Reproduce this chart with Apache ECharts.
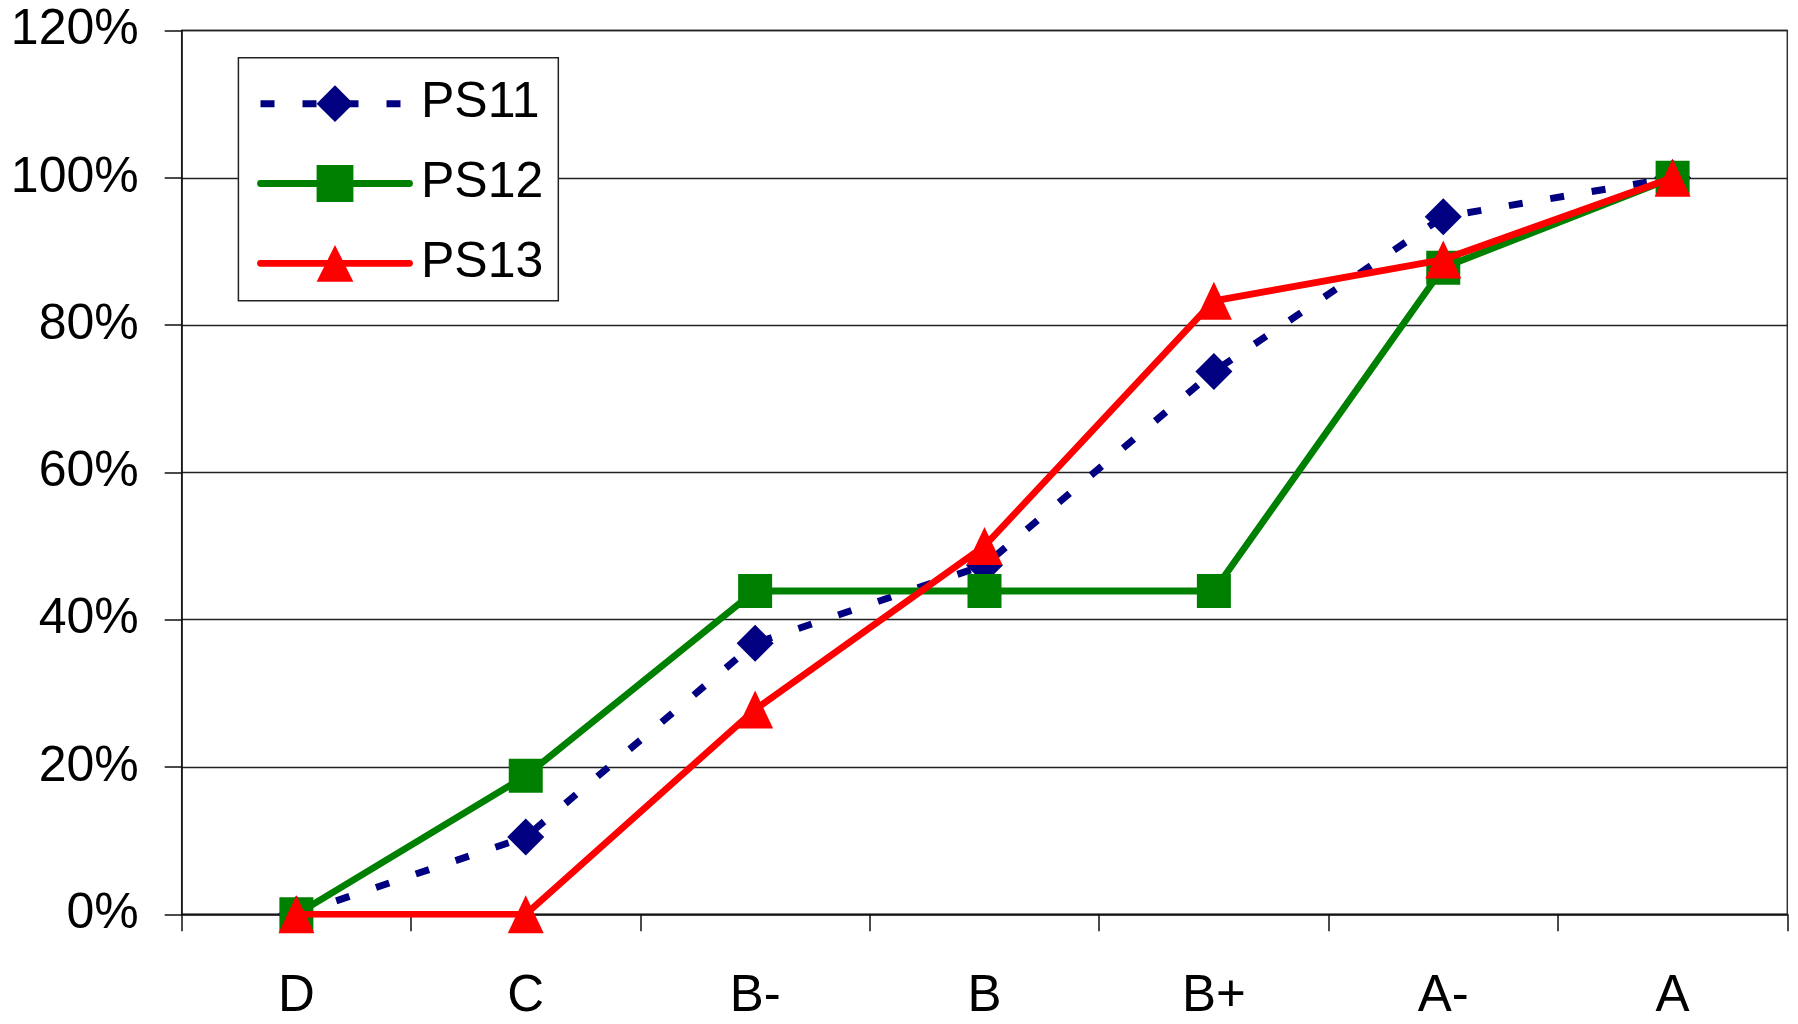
<!DOCTYPE html>
<html>
<head>
<meta charset="utf-8">
<script src="https://cdn.jsdelivr.net/npm/echarts@6/dist/echarts.min.js"></script>
<style>
  html, body { margin: 0; padding: 0; background: #fff; }
  #chart { width: 1798px; height: 1024px; }
</style>
</head>
<body>
<div id="chart"></div>
<script>
const categories = ['D', 'C', 'B-', 'B', 'B+', 'A-', 'A'];
const seriesNames = ['PS11', 'PS12', 'PS13'];
const ps11 = [0, 10.5, 36.8, 47.4, 73.7, 94.7, 100];
const ps12 = [0, 18.8, 43.9, 43.9, 43.9, 87.8, 100];
const ps13 = [0, 0, 27.8, 50.0, 83.3, 88.9, 100];
const yTicks = { min: 0, max: 120, interval: 20 };

const FONT = 'Liberation Sans, Arial, sans-serif';
const chart = echarts.init(document.getElementById('chart'), null, { renderer: 'canvas' });

const dashStyle = { color: '#000080', width: 7, type: [14, 28], cap: 'butt' };
const greenStyle = { color: '#008000', width: 6.8, cap: 'round', join: 'round' };
const redStyle = { color: '#ff0000', width: 6.8, cap: 'round', join: 'round' };

chart.setOption({
  backgroundColor: '#ffffff',
  animation: false,
  grid: {
    left: 181.7, top: 30.5, right: 10.7, bottom: 109.7,
    show: true, borderColor: '#333', borderWidth: 1.5, backgroundColor: 'transparent'
  },
  legend: {
    orient: 'vertical',
    left: 238.4,
    top: 57.7,
    padding: [21, 15, 12.5, 18.6],
    itemWidth: 149,
    itemHeight: 46,
    itemGap: 29.8,
    backgroundColor: '#fff',
    borderColor: '#222',
    borderWidth: 1.5,
    data: [
      { name: seriesNames[0], lineStyle: dashStyle },
      { name: seriesNames[1], lineStyle: greenStyle },
      { name: seriesNames[2], lineStyle: redStyle }
    ],
    textStyle: {
      fontFamily: FONT, fontSize: 50, color: '#000', lineHeight: 46,
      padding: [0, 0, 0, 6.5]
    }
  },
  xAxis: {
    type: 'category',
    data: categories,
    boundaryGap: true,
    axisLine: { lineStyle: { color: '#111', width: 1.5 } },
    axisTick: { show: true, length: 17, inside: false, lineStyle: { color: '#111', width: 1.5 } },
    axisLabel: { fontFamily: FONT, fontSize: 51, color: '#000', margin: 57, lineHeight: 51 },
    splitLine: { show: false }
  },
  yAxis: {
    type: 'value',
    min: yTicks.min, max: yTicks.max, interval: yTicks.interval,
    axisLine: { show: true, lineStyle: { color: '#111', width: 1.5 } },
    axisTick: { show: true, length: 17, lineStyle: { color: '#111', width: 1.5 } },
    axisLabel: {
      fontFamily: FONT, fontSize: 50, color: '#000', margin: 43,
      formatter: '{value}%', lineHeight: 50, padding: [4, 0, 0, 0]
    },
    splitLine: { show: true, lineStyle: { color: '#222', width: 1.3 } }
  },
  series: [
    {
      name: seriesNames[0], type: 'line', data: ps11, z: 2,
      symbol: 'diamond', symbolSize: 37,
      itemStyle: { color: '#000080' },
      lineStyle: dashStyle
    },
    {
      name: seriesNames[1], type: 'line', data: ps12, z: 3,
      symbol: 'rect', symbolSize: 34,
      itemStyle: { color: '#008000' },
      lineStyle: greenStyle
    },
    {
      name: seriesNames[2], type: 'line', data: ps13, z: 4,
      symbol: 'triangle', symbolSize: [36, 38],
      itemStyle: { color: '#ff0000' },
      lineStyle: redStyle
    }
  ]
});
</script>
</body>
</html>
